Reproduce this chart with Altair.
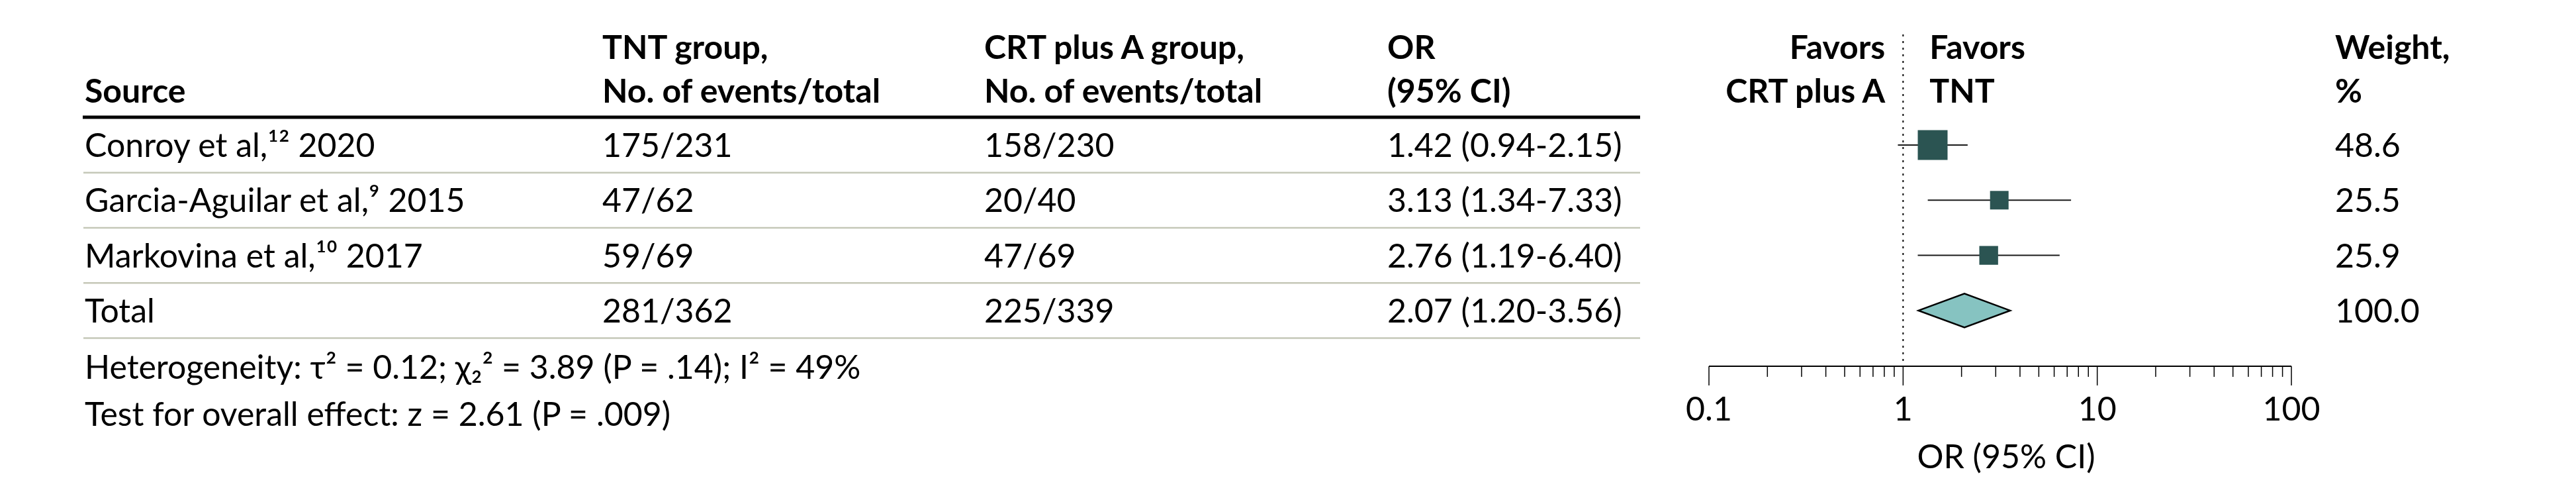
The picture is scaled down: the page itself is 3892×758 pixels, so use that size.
import altair as alt
import pandas as pd

# ---------------- data ----------------
sources = ["Conroy et al,¹² 2020", "Garcia-Aguilar et al,⁹ 2015", "Markovina et al,¹⁰ 2017", "Total"]
tnt_events = ["175/231", "47/62", "59/69", "281/362"]
crt_events = ["158/230", "20/40", "47/69", "225/339"]
or_est = [1.42, 3.13, 2.76, 2.07]
or_low = [0.94, 1.34, 1.19, 1.20]
or_high = [2.15, 7.33, 6.40, 3.56]
weights = [48.6, 25.5, 25.9, 100.0]

head_line1 = ["", "TNT group,", "CRT plus A group,", "OR"]
head_line2 = ["Source", "No. of events/total", "No. of events/total", "(95% CI)"]
heterogeneity = "Heterogeneity: τ² = 0.12; χ₂² = 3.89 (P = .14); I² = 49%"
overall = "Test for overall effect: z = 2.61 (P = .009)"
favors_left = ["Favors", "CRT plus A"]
favors_right = ["Favors", "TNT"]
weight_head = ["Weight,", "%"]
axis_title = "OR (95% CI)"
major_ticks = [0.1, 1, 10, 100]
major_labels = ["0.1", "1", "10", "100"]
minor_ticks = [0.2, 0.3, 0.4, 0.5, 0.6, 0.7, 0.8, 0.9,
               2, 3, 4, 5, 6, 7, 8, 9,
               20, 30, 40, 50, 60, 70, 80, 90]

# ---------------- layout ----------------
FONT = "Lato"
FS = 50
ROW_PX = 83.3
H = 742


def r(page_y):
    return (page_y - 219) / ROW_PX


yscale = alt.Scale(domain=[r(8), r(750)], reverse=True, nice=False, zero=False)
xscale = alt.Scale(type="log", domain=[0.1, 100], nice=False)

df = pd.DataFrame({
    "row": list(range(len(sources))),
    "source": sources,
    "tnt": tnt_events,
    "crt": crt_events,
    "est": or_est,
    "lo": or_low,
    "hi": or_high,
    "weight": weights,
})
df["or_text"] = [f"{e:.2f} ({l:.2f}-{h:.2f})" for e, l, h in zip(or_est, or_low, or_high)]
df["w_text"] = [f"{w:.1f}" for w in weights]
df["sep"] = df["row"] + 0.5

one = pd.DataFrame({"k": [0]})


def Yf(field):
    return alt.Y(field, type="quantitative", scale=yscale, axis=None)


def Yd(v):
    return alt.YDatum(v, type="quantitative", scale=yscale, axis=None)


def Xf(field):
    return alt.X(field, type="quantitative", scale=xscale, axis=None)


def Xd(v):
    return alt.XDatum(v, type="quantitative", scale=xscale, axis=None)


def text_layer(data, x, y, bold=False, text=None, field=None, align="left", dy=0, dx=0):
    mk = dict(font=FONT, fontSize=FS, align=align, baseline="alphabetic", color="black",
              fontWeight="bold" if bold else "normal", dy=dy, dx=dx)
    if text is not None:
        mk["text"] = text
    enc = {"x": x, "y": y}
    if field is not None:
        enc["text"] = alt.Text(field, type="nominal")
    return alt.Chart(data).mark_text(**mk).encode(**enc)


# ---------------- table panel ----------------
COL_X = [120, 902, 1479, 2088]
fields = ["source", "tnt", "crt", "or_text"]
tbl_layers = [
    alt.Chart(one).mark_rule(color="black", strokeWidth=5).encode(
        x=alt.value(117), x2=alt.value(2470), y=Yd(r(177))),
    alt.Chart(df).mark_rule(color="#c5c8b8", strokeWidth=2.5).encode(
        x=alt.value(118), x2=alt.value(2470), y=Yf("sep")),
]
for cx, f, h1, h2 in zip(COL_X, fields, head_line1, head_line2):
    if h1:
        tbl_layers.append(text_layer(one, alt.value(cx), Yd(r(89)), bold=True, text=h1))
    tbl_layers.append(text_layer(one, alt.value(cx), Yd(r(155)), bold=True, text=h2))
    tbl_layers.append(text_layer(df, alt.value(cx), Yf("row"), field=f, dy=18))
tbl_layers.append(text_layer(one, alt.value(120), Yd(r(572)), text=heterogeneity))
tbl_layers.append(text_layer(one, alt.value(120), Yd(r(643)), text=overall))

table = alt.layer(*tbl_layers).properties(width=2574, height=H)

# ---------------- forest panel ----------------
studies = alt.Chart(df).transform_filter("datum.row < 3")
total = df[df["row"] == 3].iloc[0]
half_h = 25.5 / ROW_PX
diamond_df = pd.DataFrame({
    "x": [total["lo"], total["est"], total["hi"]],
    "y": [total["row"], total["row"] - half_h, total["row"]],
    "y2": [total["row"], total["row"] + half_h, total["row"]],
})
minor_df = pd.DataFrame({"v": minor_ticks})
major_df = pd.DataFrame({"v": major_ticks, "label": major_labels})

AXIS_Y = r(553)
forest_layers = [
    # reference line at OR = 1
    alt.Chart(one).mark_rule(color="black", strokeWidth=2, strokeDash=[3, 7]).encode(
        x=Xd(1), y=Yd(r(52)), y2=alt.Y2Datum(AXIS_Y)),
    # confidence intervals
    studies.mark_rule(color="#1a1a1a", strokeWidth=2).encode(
        x=Xf("lo"), x2="hi:Q", y=Yf("row")),
    # study squares
    studies.mark_point(shape="square", filled=True, opacity=1, color="#2b5452").encode(
        x=Xf("est"), y=Yf("row"),
        size=alt.Size("weight:Q", scale=alt.Scale(domain=[25.5, 48.6], range=[784, 2025], zero=False),
                      legend=None)),
    # pooled diamond
    alt.Chart(diamond_df).mark_area(fill="#86c3c1", stroke="black", strokeWidth=2.5, opacity=1).encode(
        x=Xf("x"), y=Yf("y"), y2="y2:Q"),
    # axis line
    alt.Chart(one).mark_rule(color="black", strokeWidth=2).encode(
        x=Xd(0.1), x2=alt.X2Datum(100), y=Yd(AXIS_Y)),
    # major ticks
    alt.Chart(major_df).mark_rule(color="black", strokeWidth=1.5).encode(
        x=Xf("v"), y=Yd(AXIS_Y), y2=alt.Y2Datum(r(582))),
    # minor ticks
    alt.Chart(minor_df).mark_rule(color="black", strokeWidth=1.5).encode(
        x=Xf("v"), y=Yd(AXIS_Y), y2=alt.Y2Datum(r(569))),
    # tick labels
    text_layer(major_df, Xf("v"), Yd(r(635)), field="label", align="center"),
    # axis title
    text_layer(one, alt.value(449), Yd(r(707)), text=axis_title, align="center"),
    # favors labels
    text_layer(one, Xd(1), Yd(r(89)), bold=True, text=favors_left[0], align="right", dx=-27),
    text_layer(one, Xd(1), Yd(r(155)), bold=True, text=favors_left[1], align="right", dx=-27),
    text_layer(one, Xd(1), Yd(r(89)), bold=True, text=favors_right[0], align="left", dx=40),
    text_layer(one, Xd(1), Yd(r(155)), bold=True, text=favors_right[1], align="left", dx=40),
]
forest = alt.layer(*forest_layers).properties(width=880, height=H)

# ---------------- weight panel ----------------
weight_panel = alt.layer(
    text_layer(one, alt.value(66), Yd(r(89)), bold=True, text=weight_head[0]),
    text_layer(one, alt.value(66), Yd(r(155)), bold=True, text=weight_head[1]),
    text_layer(df, alt.value(66), Yf("row"), field="w_text", dy=18),
).properties(width=422, height=H)

chart = alt.hconcat(table, forest, weight_panel, spacing=0, bounds="flush").properties(
    padding=0, background="white"
).configure_view(stroke="transparent", strokeWidth=0)

chart.save("out.html", embed_options={"renderer": "svg", "actions": False})
